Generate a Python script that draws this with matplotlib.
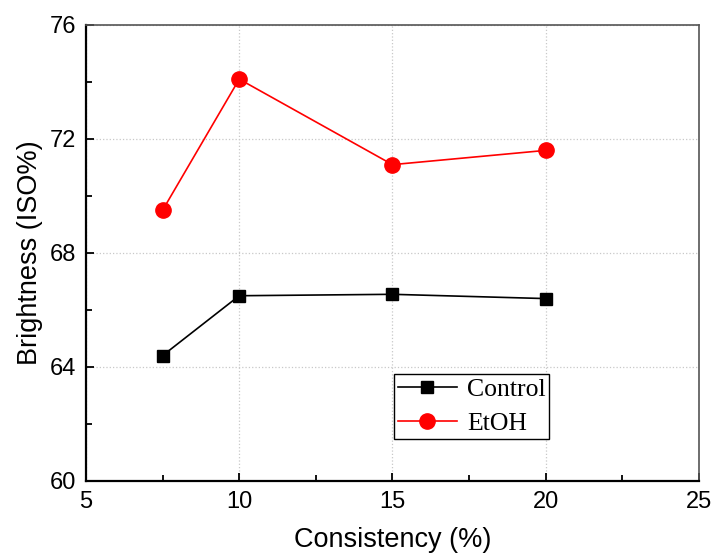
import matplotlib
matplotlib.use('Agg')
import matplotlib.pyplot as plt
from matplotlib.ticker import MultipleLocator

consistency = [7.5, 10, 15, 20]
control = [64.4, 66.5, 66.55, 66.4]
etoh = [69.5, 74.1, 71.1, 71.6]

fig = plt.figure(figsize=(7.14, 5.54), dpi=100)
ax = fig.add_axes([0.1204, 0.1318, 0.8586, 0.8231])

ax.plot(consistency, control, color='black', linewidth=1.2, marker='s', markersize=9, label='Control')
ax.plot(consistency, etoh, color='red', linewidth=1.2, marker='o', markersize=11, label='EtOH')

ax.set_xlim(5, 25)
ax.set_ylim(60, 76)
ax.xaxis.set_major_locator(MultipleLocator(5))
ax.xaxis.set_minor_locator(MultipleLocator(2.5))
ax.yaxis.set_major_locator(MultipleLocator(4))
ax.yaxis.set_minor_locator(MultipleLocator(2))
ax.grid(True, which='major', color='#c8c8c8', linestyle=':', linewidth=0.9)

ax.tick_params(which='both', direction='in', top=False, right=False, labelsize=17, pad=7)
ax.tick_params(which='major', length=6, width=1.3)
ax.tick_params(which='minor', length=4, width=1.3)
for lab in ax.get_xticklabels() + ax.get_yticklabels():
    lab.set_family('Liberation Sans')
ax.spines['left'].set_linewidth(1.6)
ax.spines['bottom'].set_linewidth(1.6)
for s in ['top', 'right']:
    ax.spines[s].set_linewidth(1.2)
    ax.spines[s].set_color('#555555')

ax.set_xlabel('Consistency (%)', fontsize=19.5, family='Liberation Sans', labelpad=10)
ax.set_ylabel('Brightness (ISO%)', fontsize=19.5, family='Liberation Sans', labelpad=5)

leg = ax.legend(loc='lower left', bbox_to_anchor=(0.502, 0.092), prop={'family': 'Liberation Serif', 'size': 18.5},
                fancybox=False, edgecolor='black', framealpha=1, handlelength=2.3,
                borderpad=0.15, labelspacing=0.45, handletextpad=0.4, borderaxespad=0)
leg.get_frame().set_linewidth(1.0)

plt.savefig('out.png', dpi=100)
